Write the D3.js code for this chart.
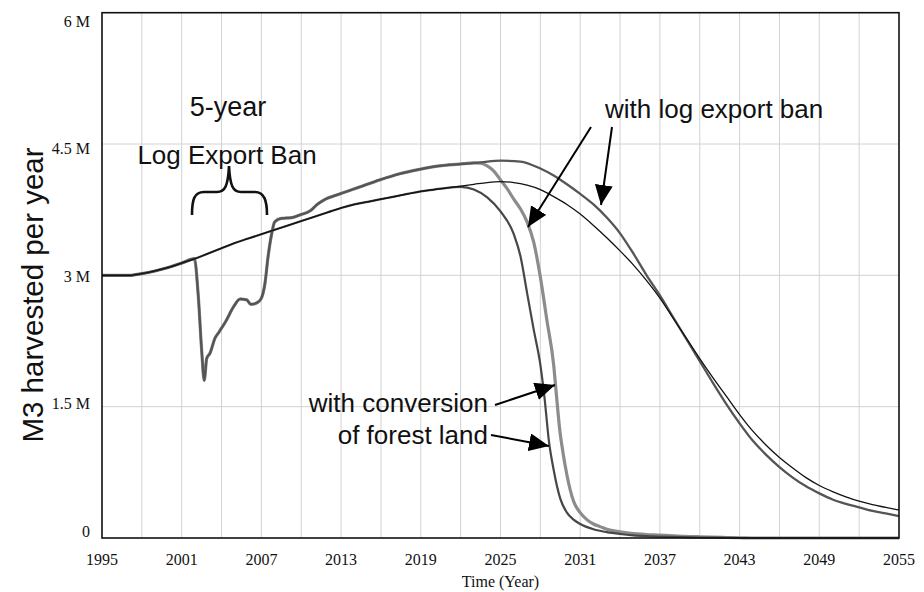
<!DOCTYPE html>
<html>
<head>
<meta charset="utf-8">
<script src="https://cdn.jsdelivr.net/npm/d3@7/dist/d3.min.js"></script>
<style>
  html, body { margin: 0; padding: 0; background: #fff; }
  svg { display: block; }
</style>
</head>
<body>
<svg id="chart" width="924" height="592"></svg>
<script>
// Harvest scenarios, million m3 per year, as [year, value] pairs.
const baseRun = [
  [1995,3.00],[1996,3.00],[1997,3.00],[1998,3.02],[1999,3.05],[2000,3.09],[2001,3.14],
  [2002,3.19],[2003,3.25],[2004,3.31],[2005,3.37],[2006,3.42],[2007,3.47],[2008,3.52],
  [2009,3.57],[2010,3.62],[2011,3.67],[2012,3.72],[2013,3.77],[2014,3.81],[2015,3.84],
  [2016,3.87],[2017,3.90],[2018,3.93],[2019,3.96],[2020,3.98],[2021,4.00],[2022,4.02],
  [2023,4.04],[2024,4.06],[2025,4.07],[2026,4.06],[2027,4.03],[2028,3.98],[2029,3.90],
  [2030,3.81],[2031,3.70],[2032,3.57],[2033,3.43],[2034,3.28],[2035,3.12],[2036,2.94],
  [2037,2.74],[2038,2.51],[2039,2.28],[2040,2.05],[2041,1.83],[2042,1.62],[2043,1.41],
  [2044,1.22],[2045,1.06],[2046,0.92],[2047,0.80],[2048,0.69],[2049,0.60],[2050,0.53],
  [2051,0.47],[2052,0.42],[2053,0.38],[2054,0.35],[2055,0.32]
];

const conversionRun = [
  [1995,3.00],[1996,3.00],[1997,3.00],[1998,3.02],[1999,3.05],[2000,3.09],[2001,3.14],
  [2002,3.19],[2003,3.25],[2004,3.31],[2005,3.37],[2006,3.42],[2007,3.47],[2008,3.52],
  [2009,3.57],[2010,3.62],[2011,3.67],[2012,3.72],[2013,3.77],[2014,3.81],[2015,3.84],
  [2016,3.87],[2017,3.90],[2018,3.93],[2019,3.96],[2020,3.98],[2021,4.00],[2022,4.01],
  [2023,3.98],[2024,3.89],[2025,3.73],[2026,3.47],[2026.5,3.22],[2027,2.80],[2027.5,2.38],
  [2028,1.98],[2028.3,1.62],[2028.65,1.10],[2029,0.78],[2029.5,0.45],[2030,0.29],
  [2030.5,0.21],[2031,0.16],[2032,0.10],[2033,0.067],[2034,0.046],[2035,0.031],
  [2036,0.022],[2038,0.012],[2040,0.006],[2042,0.002],[2043,0],[2049,0],[2055,0]
];

const exportBanRun = [
  [1995,3.00],[1996,3.00],[1997,3.00],[1998,3.02],[1999,3.05],[2000,3.09],[2001,3.14],
  [2001.95,3.19],[2002.25,2.76],[2002.5,2.15],[2002.7,1.80],[2002.88,2.05],[2003.13,2.11],
  [2003.5,2.28],[2003.8,2.35],[2004.3,2.47],[2004.9,2.64],[2005.4,2.73],[2005.9,2.72],
  [2006.2,2.67],[2006.7,2.69],[2007.0,2.74],[2007.27,2.91],[2007.5,3.21],[2007.78,3.48],
  [2008.0,3.61],[2008.5,3.65],[2009.3,3.66],[2009.9,3.69],[2010.7,3.74],[2011.2,3.81],
  [2011.7,3.86],[2012.9,3.93],[2014.4,4.01],[2015.9,4.09],[2017.4,4.16],[2018.9,4.21],
  [2020.4,4.25],[2021.9,4.27],[2023.5,4.29],[2025,4.31],[2026.5,4.30],[2028,4.22],
  [2029,4.14],[2030,4.04],[2031,3.93],[2032,3.81],[2033,3.66],[2034,3.48],[2035,3.25],
  [2036,3.00],[2037,2.77],[2038,2.52],[2039,2.27],[2040,2.02],[2041,1.77],[2042,1.53],
  [2043,1.31],[2044,1.11],[2045,0.95],[2046,0.81],[2047,0.69],[2048,0.59],[2049,0.51],
  [2050,0.44],[2051,0.39],[2052,0.35],[2053,0.31],[2054,0.28],[2055,0.25]
];

const banConversionRun = [
  [1995,3.00],[1996,3.00],[1997,3.00],[1998,3.02],[1999,3.05],[2000,3.09],[2001,3.14],
  [2001.95,3.19],[2002.25,2.76],[2002.5,2.15],[2002.7,1.80],[2002.88,2.05],[2003.13,2.11],
  [2003.5,2.28],[2003.8,2.35],[2004.3,2.47],[2004.9,2.64],[2005.4,2.73],[2005.9,2.72],
  [2006.2,2.67],[2006.7,2.69],[2007.0,2.74],[2007.27,2.91],[2007.5,3.21],[2007.78,3.48],
  [2008.0,3.61],[2008.5,3.65],[2009.3,3.66],[2009.9,3.69],[2010.7,3.74],[2011.2,3.81],
  [2011.7,3.86],[2012.9,3.93],[2014.4,4.01],[2015.9,4.09],[2017.4,4.16],[2018.9,4.21],
  [2020.4,4.25],[2021.9,4.27],[2023,4.285],[2023.5,4.28],[2024,4.25],[2024.5,4.19],
  [2025,4.09],[2025.5,3.99],[2026,3.87],[2026.5,3.76],[2027,3.61],[2027.5,3.38],[2028,2.98],
  [2028.5,2.48],[2029,1.98],[2029.2,1.65],[2029.45,1.25],[2029.7,0.98],[2030,0.72],
  [2030.5,0.42],[2031,0.29],[2031.5,0.21],[2032,0.16],[2032.5,0.13],[2033,0.10],[2034,0.07],
  [2035,0.05],[2036,0.04],[2037,0.033],[2038,0.025],[2040,0.014],[2042,0.006],[2043,0.003],
  [2044,0],[2049,0],[2055,0]
];

const yTicks = [0, 1.5, 3, 4.5, 6];
const yTickLabels = ["0", "1.5 M", "3 M", "4.5 M", "6 M"];
const xLabelYears = [1995, 2001, 2007, 2013, 2019, 2025, 2031, 2037, 2043, 2049, 2055];
const xGridYears = d3.range(1998, 2055, 3);

const svg = d3.select("#chart");
const W = 924, H = 592;
const plot = { left: 102, right: 899, top: 12.7, bottom: 538 };

svg.append("rect").attr("width", W).attr("height", H).attr("fill", "#fff");

const x = d3.scaleLinear().domain([1995, 2055]).range([plot.left, plot.right]);
const y = d3.scaleLinear().domain([0, 6]).range([plot.bottom, plot.top]);
// tick labels are spread so the top and bottom labels sit inside the frame
const yLabel = d3.scaleLinear().domain([0, 6]).range([531, 21.5]);

// gridlines
const grid = svg.append("g").attr("stroke", "#d2d2d2").attr("stroke-width", 1);
grid.selectAll("line.v").data(xGridYears).join("line")
  .attr("x1", d => x(d)).attr("x2", d => x(d))
  .attr("y1", plot.top).attr("y2", plot.bottom);
grid.selectAll("line.h").data([1.5, 3, 4.5]).join("line")
  .attr("x1", plot.left).attr("x2", plot.right)
  .attr("y1", d => y(d)).attr("y2", d => y(d));

// y tick labels
svg.append("g").selectAll("text").data(yTicks).join("text")
  .attr("x", 90).attr("y", d => yLabel(d))
  .attr("text-anchor", "end").attr("dominant-baseline", "central")
  .attr("font-family", "'Liberation Serif', 'Times New Roman', serif")
  .attr("font-size", 16).attr("fill", "#111")
  .text((d, i) => yTickLabels[i]);

// x axis labels
svg.append("g").selectAll("text").data(xLabelYears).join("text")
  .attr("x", d => x(d)).attr("y", 565)
  .attr("text-anchor", "middle")
  .attr("font-family", "'Liberation Serif', 'Times New Roman', serif")
  .attr("font-size", 16).attr("fill", "#111")
  .text(d => d);

svg.append("text")
  .attr("x", (plot.left + plot.right) / 2).attr("y", 587)
  .attr("text-anchor", "middle")
  .attr("font-family", "'Liberation Serif', 'Times New Roman', serif")
  .attr("font-size", 16).attr("fill", "#111")
  .text("Time (Year)");

// y axis title
svg.append("text")
  .attr("transform", "translate(43,295) rotate(-90)")
  .attr("text-anchor", "middle")
  .attr("font-family", "'Liberation Sans', Arial, sans-serif")
  .attr("font-size", 29.5).attr("fill", "#111")
  .text("M3 harvested per year");

// series
const line = d3.line().x(d => x(d[0])).y(d => y(d[1])).curve(d3.curveMonotoneX);
const series = [
  { data: banConversionRun, color: "#8c8c8c", width: 3.2 },
  { data: conversionRun, color: "#474747", width: 2.2 },
  { data: exportBanRun, color: "#555555", width: 2.3 },
  { data: baseRun, color: "#111111", width: 1.3 }
];
svg.append("g").selectAll("path").data(series).join("path")
  .attr("d", d => line(d.data))
  .attr("fill", "none")
  .attr("stroke", d => d.color)
  .attr("stroke-width", d => d.width)
  .attr("stroke-linejoin", "round");

// frame
svg.append("rect")
  .attr("x", plot.left).attr("y", plot.top)
  .attr("width", plot.right - plot.left).attr("height", plot.bottom - plot.top)
  .attr("fill", "none").attr("stroke", "#111").attr("stroke-width", 1.6);

// annotations
const ann = svg.append("g")
  .attr("font-family", "'Liberation Sans', Arial, sans-serif")
  .attr("font-size", 26).attr("fill", "#111");

ann.append("text").attr("x", 228).attr("y", 116).attr("text-anchor", "middle").attr("font-size", 27).text("5-year");
ann.append("text").attr("x", 227).attr("y", 164).attr("text-anchor", "middle").text("Log Export Ban");
ann.append("text").attr("x", 605).attr("y", 118).text("with log export ban");
ann.append("text").attr("x", 488).attr("y", 412).attr("text-anchor", "end").text("with conversion");
ann.append("text").attr("x", 488).attr("y", 444).attr("text-anchor", "end").text("of forest land");

// brace over the ban period
svg.append("path")
  .attr("d", "M192,215 C192,200 194,192 204,192 L217,192 C225,192 228,186 229,166 C230,186 233,192 241,192 L255,192 C264,192 267,200 267,215")
  .attr("fill", "none").attr("stroke", "#111").attr("stroke-width", 2.6);

// arrows
const defs = svg.append("defs");
defs.append("marker")
  .attr("id", "head").attr("markerUnits", "userSpaceOnUse")
  .attr("viewBox", "0 0 20 18").attr("refX", 20).attr("refY", 9)
  .attr("markerWidth", 20).attr("markerHeight", 18).attr("orient", "auto")
  .append("path").attr("d", "M0,0 L20,9 L0,18 Z").attr("fill", "#000");

const arrows = [
  [591, 127, 528, 227],
  [612, 127, 601, 205],
  [495, 405, 555, 385],
  [491, 435, 549, 446]
];
svg.append("g").selectAll("line").data(arrows).join("line")
  .attr("x1", d => d[0]).attr("y1", d => d[1])
  .attr("x2", d => d[2]).attr("y2", d => d[3])
  .attr("stroke", "#000").attr("stroke-width", 2)
  .attr("marker-end", "url(#head)");
</script>
</body>
</html>
